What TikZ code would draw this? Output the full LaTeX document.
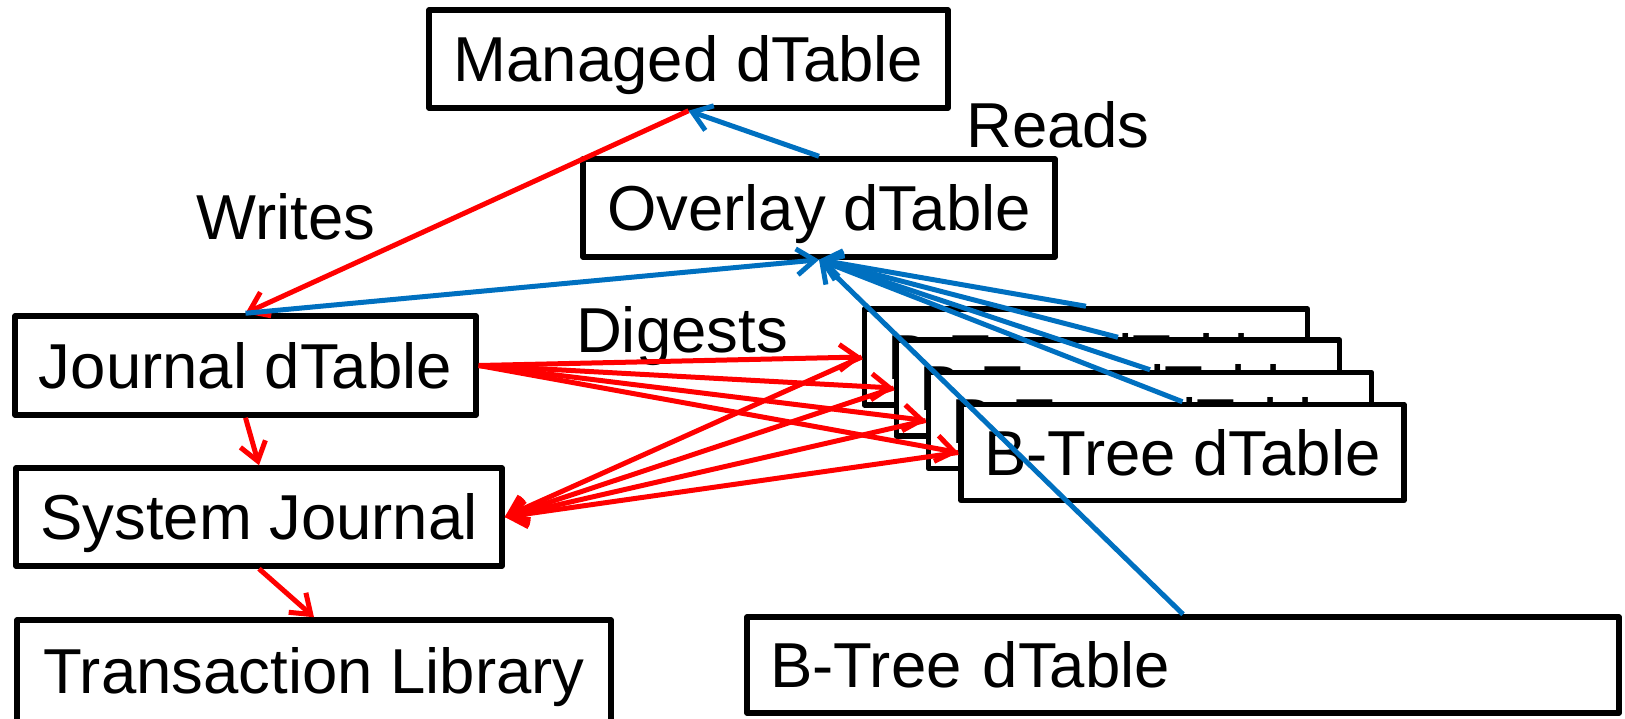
\documentclass[tikz,border=0pt]{standalone}
\usepackage{fontspec}
\setmainfont{Liberation Sans}
\usetikzlibrary{arrows.meta}
\definecolor{myblue}{HTML}{0070C0}
\definecolor{myred}{HTML}{FF0000}
\begin{document}
\begin{tikzpicture}[x=1pt,y=-1pt,
  box/.style={draw=black,line width=5.5pt,line join=round,fill=white,rectangle,inner sep=0pt,
    text height=45.5pt,text depth=0pt,font=\fontsize{63.5pt}{76pt}\selectfont},
  lbl/.style={font=\fontsize{63.5pt}{76pt}\selectfont,inner sep=0pt,anchor=base},
  rarr/.style={draw=myred,line width=5pt,-{Straight Barb[length=18pt,width=26pt]}},
  barr/.style={draw=myblue,line width=5pt,-{Straight Barb[length=18pt,width=26pt]}}]
\useasboundingbox (0,0) rectangle (1625,718);

\node[box,minimum width=519pt,minimum height=98pt] (managed) at (688.5,59) {Managed dTable};
\node[box,minimum width=472pt,minimum height=98pt] (overlay) at (819,208) {Overlay dTable};
\node[box,minimum width=461pt,minimum height=99pt] (journal) at (245.5,365.5) {Journal dTable};
\node[box,minimum width=486pt,minimum height=98pt] (system) at (259,517) {System Journal};
\node[box,minimum width=594pt,minimum height=102pt] (trans) at (314,671) {Transaction Library};

\node[box,minimum width=443pt,minimum height=96pt] (bt1) at (1086,357) {B-Tree dTable};
\node[box,minimum width=443pt,minimum height=96pt] (bt2) at (1118,388) {B-Tree dTable};
\node[box,minimum width=443pt,minimum height=96pt] (bt3) at (1150,420.5) {B-Tree dTable};
\node[box,minimum width=443pt,minimum height=96pt] (bt4) at (1182.5,452.5) {B-Tree dTable};

\node[box,text width=826pt,align=left,inner xsep=23pt,minimum height=96pt] (btb) at (1183,665) {B-Tree dTable};

\node[lbl] (writes) at (286,239) {Writes};
\node[lbl] (reads) at (1058,147) {Reads};
\node[lbl] (digests) at (682,352) {Digests};

\draw[rarr] (managed.south) -- (journal.north);
\draw[rarr] (journal.south) -- (system.north);
\draw[rarr] (system.south) -- (trans.north);
\foreach \b in {bt1,bt2,bt3,bt4}{
  \draw[rarr] (journal.east) -- (\b.west);
  \draw[rarr] (\b.west) -- (system.east);
}
\draw[barr] (overlay.north) -- (managed.south);
\draw[barr] (journal.north) -- (overlay.south);
\foreach \b in {bt1,bt2,bt3,bt4,btb}{
  \draw[barr] (\b.north) -- (overlay.south);
}
\end{tikzpicture}
\end{document}
